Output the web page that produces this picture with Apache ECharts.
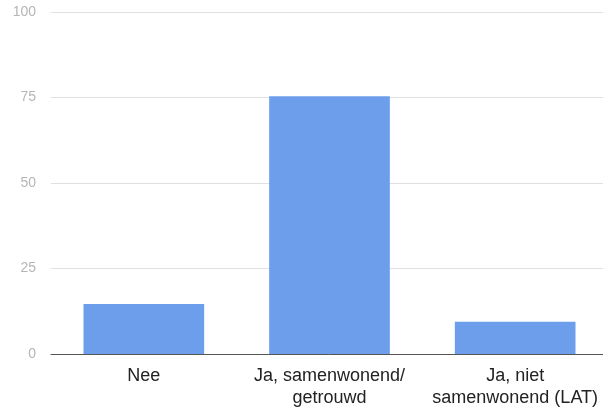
<!DOCTYPE html>
<html><head><meta charset="utf-8">
<script src="https://cdn.jsdelivr.net/npm/echarts@6/dist/echarts.min.js"></script>
<style>html,body{margin:0;padding:0;background:#fff;overflow:hidden;width:603px;height:410px}#c{width:608px;height:410px}</style>
</head><body><div id="c"></div>
<script>
const categories = ["Nee", "Ja, samenwonend/\ngetrouwd", "Ja, niet\nsamenwonend (LAT)"];
const values = [14.6, 75.4, 9.4];
const yTicks = [0, 25, 50, 75, 100];

const chart = echarts.init(document.getElementById('c'), null, {renderer: 'canvas'});
chart.setOption({
  animation: false,
  grid: {left: 51, right: 0, top: 12, bottom: 56, containLabel: false},
  xAxis: {
    type: 'category', data: categories,
    axisTick: {show: false},
    axisLine: {lineStyle: {color: '#555', width: 1}},
    axisLabel: {color: '#222', fontFamily: 'Liberation Sans, Arial, sans-serif', fontSize: 18, margin: 11, lineHeight: 22, interval: 0}
  },
  yAxis: {
    type: 'value', min: yTicks[0], max: yTicks[yTicks.length-1], interval: 25,
    axisLine: {show: false}, axisTick: {show: false},
    axisLabel: {color: '#b5b5b5', fontFamily: 'Liberation Sans, Arial, sans-serif', fontSize: 14, margin: 15},
    splitLine: {lineStyle: {color: '#e0e0e0', width: 1}}
  },
  series: [{
    type: 'bar', data: values, barCategoryGap: '35%',
    itemStyle: {color: '#6d9eeb'}
  }]
});
</script></body></html>
